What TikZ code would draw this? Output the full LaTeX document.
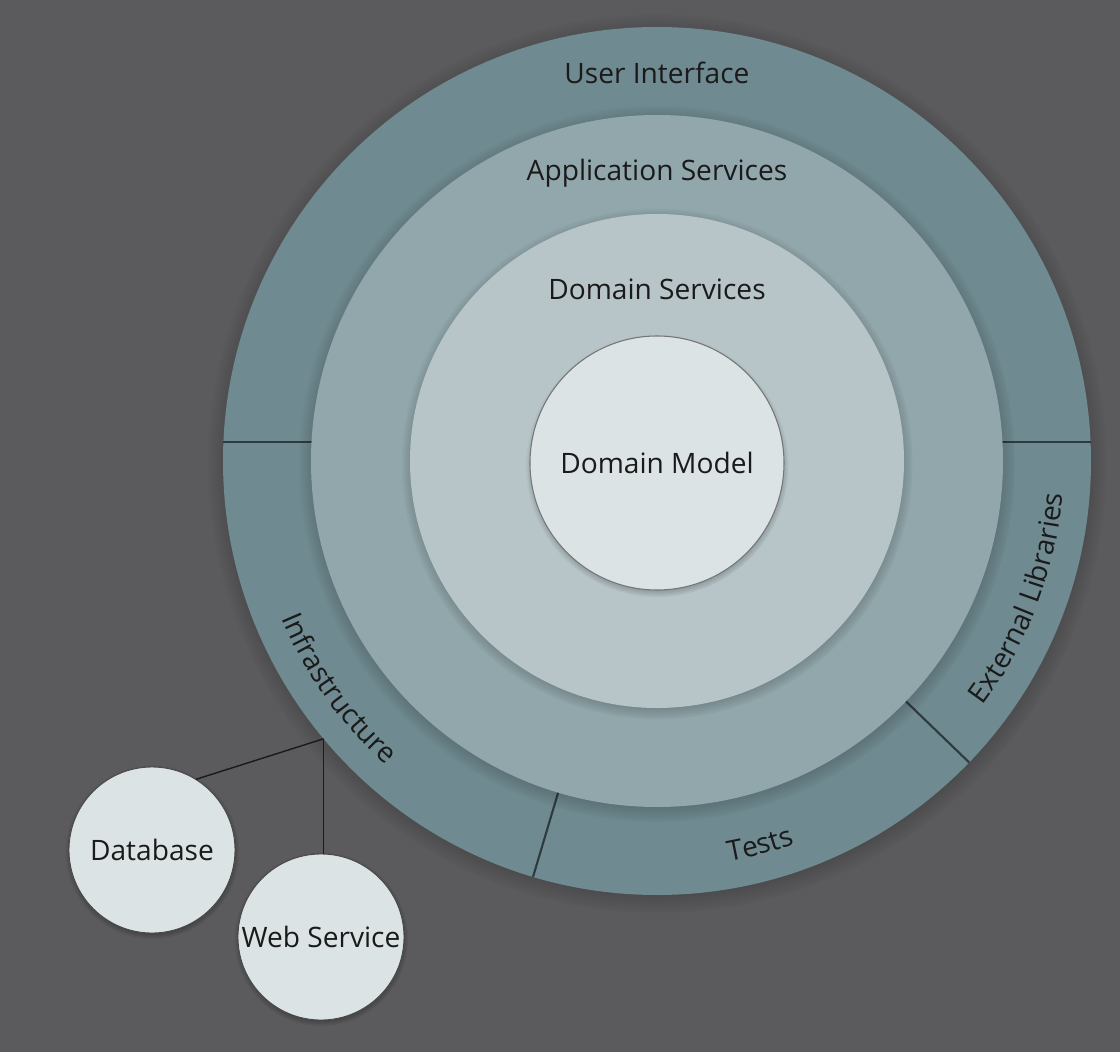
\documentclass[tikz,border=0pt]{standalone}
\usepackage{fontspec}
\setmainfont{Open Sans}
\usepackage{tikz}
\usepackage{xcolor}
\usetikzlibrary{positioning,calc,shadows,decorations.text}
\definecolor{slate}{HTML}{5B5B5D}
\definecolor{ringouter}{HTML}{6F8A90}
\definecolor{ringapp}{HTML}{91A7AB}
\definecolor{ringdom}{HTML}{B7C5C9}
\definecolor{core}{HTML}{DCE3E4}
\definecolor{ink}{HTML}{1A1A1A}
\definecolor{divider}{HTML}{2E3B3E}
\newcommand{\ringfont}{\fontsize{16}{19}\selectfont}
\tikzset{
  layer/.style={circle,draw=none,inner sep=0pt,
                circular drop shadow={shadow xshift=0pt,shadow yshift=-1.5pt,
                                      shadow scale=1.035,fill=black,opacity=0.55}},
  extbox/.style={circle,draw=ink!80,line width=0.5pt,fill=core,inner sep=0pt,
                 minimum size=3.32cm,font=\ringfont,text=ink,
                 circular drop shadow={shadow xshift=0pt,shadow yshift=-1pt,
                                       shadow scale=1.05,fill=black,opacity=0.5}},
  ringlabel/.style={font=\ringfont,text=ink},
  divline/.style={draw=divider,line width=1.2pt},
  wire/.style={draw=ink,line width=0.8pt}
}

\begin{document}
\begin{tikzpicture}[x=1cm,y=1cm]
    \path[use as bounding box,fill=slate] (-13.14,-11.82) rectangle (9.26,9.22);
    % outer ring and its sectors
    \node[layer,fill=ringouter,minimum size=17.36cm] (ui) at (0,0) {};
    \draw[divline] (-8.68,0.38) -- (-6.85,0.38);
    \draw[divline] (6.85,0.38) -- (8.68,0.38);
    \draw[divline] (-44:6.85) -- (-44:8.68);
    \draw[divline] (253.4:6.85) -- (253.4:8.68);
    \node[ringlabel] (uilabel) at (0,7.76) {User Interface};
    \path[decorate,decoration={text along path,text align=center,
          text={|\ringfont\color{ink}|Infrastructure}}]
      (178:8.14) arc[start angle=178,end angle=253,radius=8.14];
    \path[decorate,decoration={text along path,text align=center,
          text={|\ringfont\color{ink}|Tests}}]
      (254:8.14) arc[start angle=254,end angle=316,radius=8.14];
    \path[decorate,decoration={text along path,text align=center,
          text={|\ringfont\color{ink}|External Libraries}}]
      (-44:8.14) arc[start angle=-44,end angle=2.5,radius=8.14];
    % inner layers
    \node[layer,fill=ringapp,minimum size=13.84cm] (app) at (0,0) {};
    \node[ringlabel] (applabel) at (0,5.76) {Application Services};
    \node[layer,fill=ringdom,minimum size=9.88cm] (dom) at (0,0) {};
    \node[ringlabel] (domlabel) at (0,3.44) {Domain Services};
    \node[layer,fill=core,draw=ink!60,line width=0.6pt,minimum size=5.08cm,
          font=\ringfont,text=ink] (model) at (0,-0.04) {Domain Model};
    % outside systems
    \coordinate (hub) at (219.8:8.68);
    \node[extbox] (db) at (-10.10,-7.78) {Database};
    \node[extbox] (ws) at (-6.72,-9.52) {Web Service};
    \draw[wire] (hub) -- (db.58);
    \draw[wire] (hub) -- (hub |- ws.north);
  \end{tikzpicture}
\end{document}
